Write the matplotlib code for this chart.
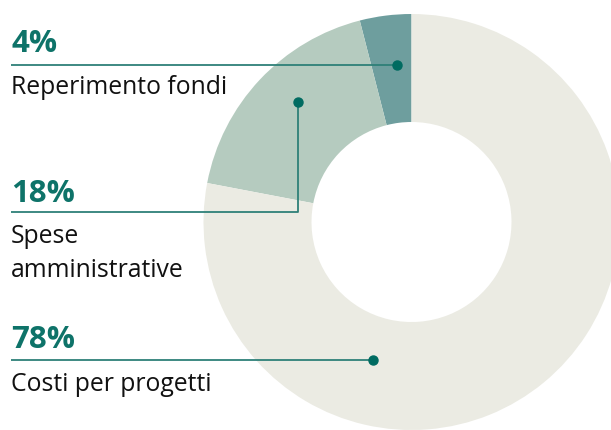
import matplotlib
matplotlib.use("Agg")
import matplotlib.pyplot as plt

# Data
labels = ["Reperimento fondi", "Spese\namministrative", "Costi per progetti"]
pct_labels = ["4%", "18%", "78%"]
values = [4, 18, 78]
colors = ["#6E9E9E", "#B5CBBF", "#EBEBE3"]

W, H = 611, 430
fig = plt.figure(figsize=(W / 100, H / 100), dpi=100)
ax = fig.add_axes([0, 0, 1, 1])

cx, cy = 411.5, H - 222
R, r = 208, 100
ax.pie(values, colors=colors, startangle=90, counterclock=True,
       center=(cx, cy), radius=R,
       wedgeprops=dict(width=R - r, linewidth=0))

ax.set_xlim(0, W)
ax.set_ylim(0, H)
ax.set_aspect("equal")
ax.axis("off")

teal_line = "#2E8078"
teal_dot = "#006B61"
teal_text = "#0E7369"
font = "Open Sans"

def Y(y):
    return H - y

# Leader lines
ax.plot([11, 397], [Y(64.5), Y(64.5)], color=teal_line, lw=1.3, solid_capstyle="butt")
ax.plot([397], [Y(64.5)], "o", color=teal_dot, ms=6.5)
ax.plot([11, 298, 298], [Y(211.5), Y(211.5), Y(101.5)], color=teal_line, lw=1.3, solid_capstyle="butt")
ax.plot([298], [Y(101.5)], "o", color=teal_dot, ms=6.5)
ax.plot([11, 373], [Y(360), Y(360)], color=teal_line, lw=1.3, solid_capstyle="butt")
ax.plot([373], [Y(360)], "o", color=teal_dot, ms=6.5)

# Texts
pct_y = [52, 202, 348]
for p, py in zip(pct_labels, pct_y):
    ax.text(11, Y(py), p, fontsize=22.5, fontweight="bold", color=teal_text,
            family=font, va="baseline", ha="left")
lab_size = 17.8
ax.text(11, Y(94), labels[0], fontsize=lab_size, color="#111111", family=font,
        va="baseline", ha="left")
line1, line2 = labels[1].split("\n")
ax.text(11, Y(243), line1, fontsize=lab_size, color="#111111", family=font,
        va="baseline", ha="left")
ax.text(11, Y(277), line2, fontsize=lab_size, color="#111111", family=font,
        va="baseline", ha="left")
ax.text(11, Y(391), labels[2], fontsize=lab_size, color="#111111", family=font,
        va="baseline", ha="left")

fig.savefig("out.png", dpi=100)
